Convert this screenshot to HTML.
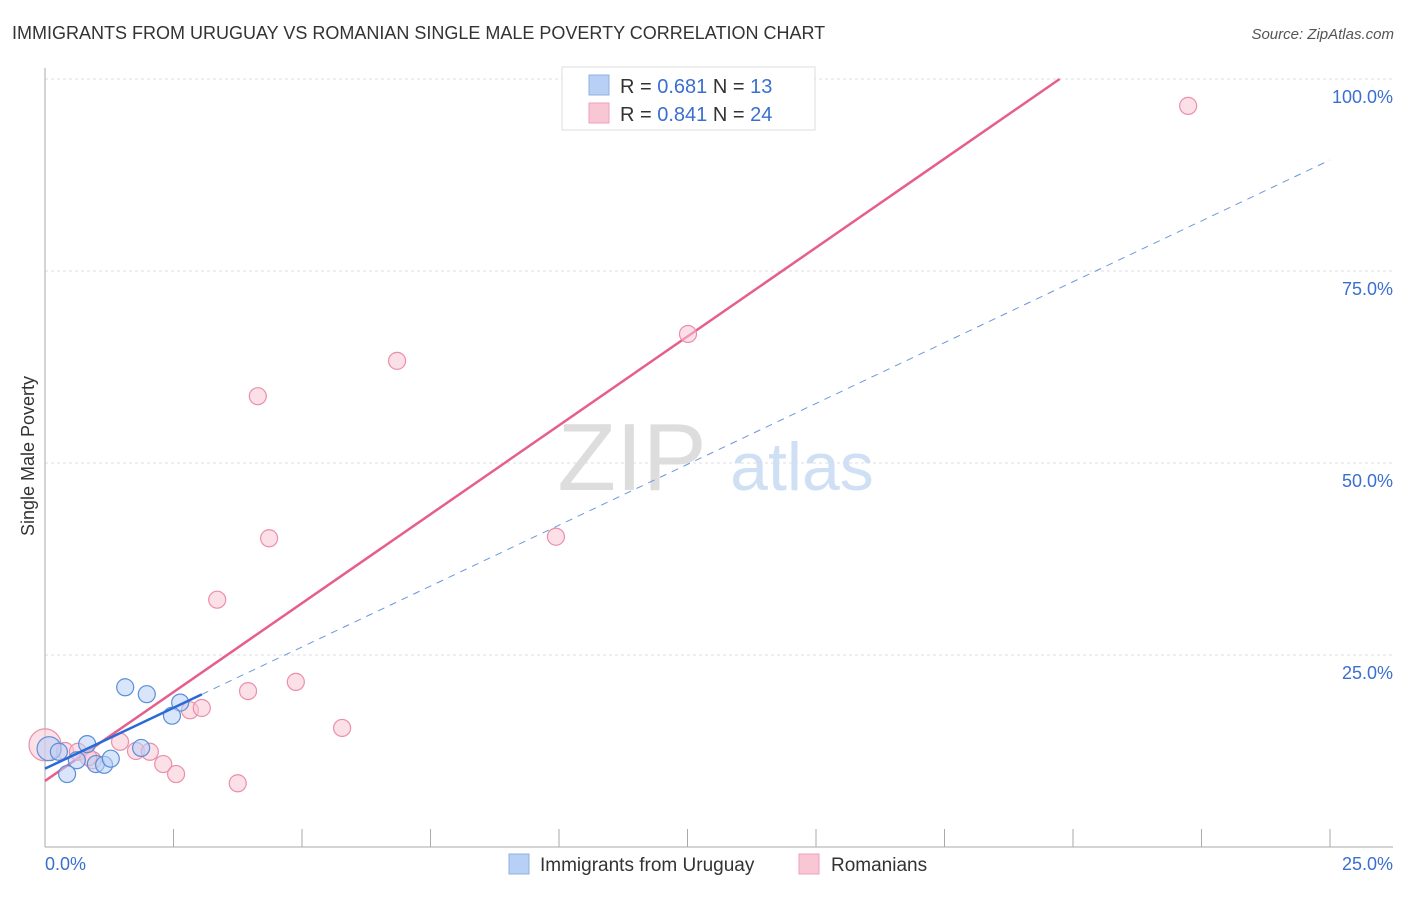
<!DOCTYPE html>
<html><head><meta charset="utf-8">
<style>
body{margin:0;background:#fff;font-family:"Liberation Sans",sans-serif;}
svg text{font-family:"Liberation Sans",sans-serif;}
</style></head>
<body>
<svg width="1406" height="892">
<text x="12" y="39" font-size="18" fill="#333">IMMIGRANTS FROM URUGUAY VS ROMANIAN SINGLE MALE POVERTY CORRELATION CHART</text>
<text x="1394" y="39" font-size="15" fill="#555" font-style="italic" text-anchor="end">Source: ZipAtlas.com</text>
<text transform="translate(34,456) rotate(-90)" font-size="18" fill="#333" text-anchor="middle">Single Male Poverty</text>
<g id="grid"></g>
<text x="632" y="490" font-size="96" fill="#ddd" font-family="Liberation Serif" text-anchor="middle">ZIP</text>
<text x="802" y="490" font-size="68" fill="#cfe0f5" text-anchor="middle">atlas</text>
<g id="lines"></g>
<g id="pts"></g>
<g>
<rect x="562" y="67" width="253" height="63" fill="#fff" stroke="#ddd"/>
<rect x="589" y="75" width="20" height="20" fill="#b8d0f5" stroke="#8fb0e0"/>
<rect x="589" y="103" width="20" height="20" fill="#f9c6d5" stroke="#eea0b8"/>
<text x="620" y="93" font-size="20" fill="#333">R = <tspan fill="#3a6fd0">0.681</tspan>   N =  <tspan fill="#3a6fd0">13</tspan></text>
<text x="620" y="121" font-size="20" fill="#333">R = <tspan fill="#3a6fd0">0.841</tspan>   N = <tspan fill="#3a6fd0">24</tspan></text>
</g>
<g>
<rect x="509" y="854" width="20" height="20" fill="#b8d0f5" stroke="#8fb0e0"/>
<text x="540" y="871" font-size="19" fill="#333">Immigrants from Uruguay</text>
<rect x="799" y="854" width="20" height="20" fill="#f9c6d5" stroke="#eea0b8"/>
<text x="831" y="871" font-size="19" fill="#333">Romanians</text>
</g>
</svg>
<script>
const yTicks=[25,50,75,100];
const yTickLabels=["25.0%","50.0%","75.0%","100.0%"];
const xTickLabels=["0.0%","25.0%"];
const blueX=[1.56,1.98,2.63,2.47,0.08,0.27,0.82,0.62,0.43,0.99,1.15,1.28,1.87];
const blueY=[20.8,19.9,18.8,17.1,12.8,12.4,13.4,11.3,9.5,10.8,10.7,11.5,12.9];
const pinkX=[22.24,12.51,6.85,4.14,4.36,9.94,3.35,4.88,3.95,2.82,3.05,5.78,0,0.39,0.64,1.46,1.77,2.04,0.93,2.30,2.55,3.75,10.64,0.84];
const pinkY=[96.5,66.8,63.3,58.7,40.2,40.4,32.2,21.5,20.3,17.8,18.1,15.5,13.3,12.5,12.4,13.7,12.5,12.4,11.3,10.8,9.5,8.3,100,11.7];
const pinkFit=[8.6,4.63];
const blueFit=[10.2,3.17];
const blueSolidEnd=3.05;
const NS="http://www.w3.org/2000/svg";
const sx=v=>45+v*51.4, sy=v=>847-v*7.68;
function mk(t,a,p){const e=document.createElementNS(NS,t);for(const k in a)e.setAttribute(k,a[k]);p.appendChild(e);return e;}
const grid=document.getElementById('grid');
yTicks.forEach((t,i)=>{
 const l=mk('line',{x1:45,x2:1393,y1:sy(t),y2:sy(t),stroke:'#ddd','stroke-dasharray':'3,3'},grid);
 
 
 const tx=mk('text',{x:1393,y:sy(t)+24,'font-size':18,fill:'#3a6fd0','text-anchor':'end'},grid);
 tx.textContent=yTickLabels[i];
 
 
});
const ax=mk('line',{x1:45,x2:45,y1:68,y2:847,stroke:'#aaa'},grid);


const bx=mk('line',{x1:45,x2:1393,y1:847,y2:847,stroke:'#aaa'},grid);


for(let i=0;i<=10;i++){const t=mk('line',{x1:sx(i*2.5),x2:sx(i*2.5),y1:829,y2:847,stroke:'#aaa'},grid);
 
 }
xTickLabels.forEach((s,i)=>{const t=mk('text',{x:i?1393:45,y:870,'font-size':18,fill:'#3a6fd0','text-anchor':i?'end':'start'},grid);t.textContent=s;
 
 });
const pts=document.getElementById('pts');
function dots(X,Y,fill,stroke,name){X.forEach((x,i)=>{const big=(x===0||x===0.08);
 const c=mk('circle',{cx:sx(x),cy:sy(Y[i]),r:(x===0?16:(x===0.08?12:8.5)),fill:fill,'fill-opacity':0.55,stroke:stroke,'stroke-width':1.2},pts);
 
 });}
dots(pinkX,pinkY,'#f9c6d5','#ea8fab','romanians-point');
dots(blueX,blueY,'#b8d0f5','#5a8fd8','uruguay-point');
const ln=document.getElementById('lines');
const pEnd=(100-pinkFit[0])/pinkFit[1];
const pl=mk('line',{x1:sx(0),y1:sy(pinkFit[0]),x2:sx(pEnd),y2:sy(100),stroke:'#e55e8c','stroke-width':2.5},ln);


const bd=mk('line',{x1:sx(blueSolidEnd),y1:sy(blueFit[0]+blueFit[1]*blueSolidEnd),x2:sx(25),y2:sy(blueFit[0]+blueFit[1]*25),stroke:'#6a98dc','stroke-width':1,'stroke-dasharray':'7,6'},ln);


const bs=mk('line',{x1:sx(0),y1:sy(blueFit[0]),x2:sx(blueSolidEnd),y2:sy(blueFit[0]+blueFit[1]*blueSolidEnd),stroke:'#2a6ad6','stroke-width':2.5},pts);


</script>
</body></html>
